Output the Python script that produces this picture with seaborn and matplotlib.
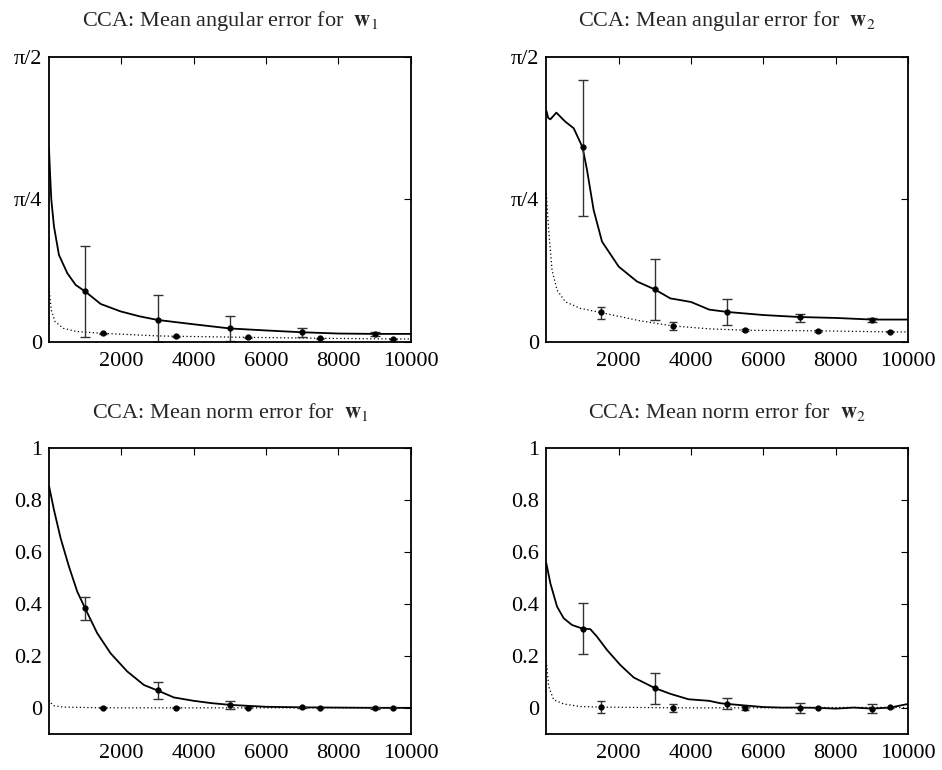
import numpy as np
import pandas as pd
import seaborn as sns
import matplotlib.pyplot as plt

# --- CCA: angular error for w1 (radians) ---
ang1_x = [0, 30, 64, 138, 276, 506, 737, 1000, 1430, 1980, 2500, 3000, 4000, 5000, 6000, 7000, 8000, 9000, 10000]
ang1_y = [1.068, 0.927, 0.785, 0.636, 0.479, 0.379, 0.314, 0.278, 0.209, 0.168, 0.141, 0.121, 0.097, 0.074, 0.063, 0.053, 0.046, 0.044, 0.044]
ang1_dot_x = [0, 64, 166, 396, 764, 1500, 3000, 3500, 5500, 7500, 9500, 10000]
ang1_dot_y = [0.298, 0.176, 0.112, 0.075, 0.057, 0.047, 0.033, 0.031, 0.025, 0.020, 0.016, 0.016]
ang1_err_mid = [0.278, 0.121, 0.074, 0.053, 0.044]
ang1_err_hi = [0.526, 0.259, 0.141, 0.077, 0.053]
ang1_err_lo = [0.025, 0.0, 0.003, 0.028, 0.035]
ang1_dot_mid = [0.047, 0.031, 0.025, 0.020, 0.016]
ang1_dot_hi = [0.050, 0.034, 0.027, 0.022, 0.018]
ang1_dot_lo = [0.044, 0.028, 0.023, 0.018, 0.014]

# --- CCA: angular error for w2 (radians) ---
ang2_x = [0, 50, 110, 276, 525, 755, 1000, 1123, 1307, 1538, 2000, 2505, 3000, 3425, 4000, 4500, 5000, 6000, 7000, 8000, 9000, 10000]
ang2_y = [1.275, 1.235, 1.227, 1.264, 1.214, 1.178, 1.073, 0.949, 0.727, 0.553, 0.415, 0.333, 0.289, 0.240, 0.220, 0.178, 0.165, 0.148, 0.137, 0.132, 0.123, 0.123]
ang2_dot_x = [0, 64, 156, 295, 525, 939, 1500, 2597, 3500, 4500, 5500, 7500, 9500, 10000]
ang2_dot_y = [0.817, 0.617, 0.397, 0.286, 0.221, 0.185, 0.162, 0.116, 0.088, 0.072, 0.064, 0.061, 0.055, 0.055]
ang2_err_mid = [1.073, 0.289, 0.165, 0.137, 0.123]
ang2_err_hi = [1.444, 0.456, 0.237, 0.156, 0.132]
ang2_err_lo = [0.696, 0.121, 0.091, 0.108, 0.110]
ang2_dot_mid = [0.162, 0.088, 0.064, 0.061, 0.055]
ang2_dot_hi = [0.195, 0.108, 0.070, 0.065, 0.058]
ang2_dot_lo = [0.126, 0.064, 0.058, 0.057, 0.052]

# --- CCA: norm error for w1 ---
nrm1_x = [0, 138, 322, 552, 783, 1000, 1335, 1703, 2164, 2624, 3000, 3453, 4000, 4500, 5000, 6000, 7000, 8000, 9000, 10000]
nrm1_y = [0.855, 0.762, 0.653, 0.544, 0.447, 0.383, 0.287, 0.210, 0.140, 0.088, 0.067, 0.040, 0.027, 0.018, 0.0115, 0.004, 0.002, 0.001, 0.0, 0.0]
nrm1_dot_x = [0, 60, 138, 396, 1500, 10000]
nrm1_dot_y = [0.031, 0.018, 0.008, 0.003, 0.0, 0.0]
nrm1_err_mid = [0.383, 0.067, 0.0115, 0.002, 0.0]
nrm1_err_hi = [0.428, 0.099, 0.027, 0.005, 0.003]
nrm1_err_lo = [0.338, 0.033, -0.004, -0.001, -0.003]
nrm1_dot_mid = [0.0, 0.0, 0.0, 0.0, 0.0]
nrm1_dot_hi = [0.002, 0.002, 0.002, 0.002, 0.002]
nrm1_dot_lo = [-0.002, -0.002, -0.002, -0.002, -0.002]

# --- CCA: norm error for w2 ---
nrm2_x = [0, 110, 295, 479, 709, 1000, 1215, 1400, 1676, 2044, 2413, 3000, 3425, 3931, 4500, 4800, 5000,
          5500, 6000, 6500, 7000, 7500, 8000, 8500, 9000, 9500, 10000]
nrm2_y = [0.556, 0.480, 0.390, 0.345, 0.319, 0.305, 0.303, 0.274, 0.223, 0.165, 0.117, 0.076, 0.054, 0.033, 0.027, 0.018, 0.015,
          0.009, 0.003, 0.001, 0.001, 0.0, -0.003, 0.001, -0.003, 0.001, 0.015]
nrm2_dot_x = [0, 64, 202, 479, 939, 1500, 3500, 5500, 7500, 9500, 10000]
nrm2_dot_y = [0.18, 0.082, 0.031, 0.015, 0.005, 0.003, 0.0, 0.0, 0.001, 0.002, 0.0]
nrm2_err_mid = [0.305, 0.076, 0.015, 0.001, -0.003]
nrm2_err_hi = [0.405, 0.136, 0.037, 0.018, 0.014]
nrm2_err_lo = [0.206, 0.015, -0.005, -0.018, -0.018]
nrm2_dot_mid = [0.003, 0.0, 0.0, 0.001, 0.002]
nrm2_dot_hi = [0.028, 0.015, 0.008, 0.003, 0.004]
nrm2_dot_lo = [-0.020, -0.017, -0.008, -0.001, 0.0]

err_x = [1000, 3000, 5000, 7000, 9000]
dot_err_x = [1500, 3500, 5500, 7500, 9500]

titles = ['CCA: Mean angular error for  $\\mathbf{w}_1$',
          'CCA: Mean angular error for  $\\mathbf{w}_2$',
          'CCA: Mean norm error for  $\\mathbf{w}_1$',
          'CCA: Mean norm error for  $\\mathbf{w}_2$']

x_ticks = [2000, 4000, 6000, 8000, 10000]
ang_ticks = [0, np.pi / 4, np.pi / 2]
ang_labels = ['0', 'π/4', 'π/2']
nrm_ticks = [0, 0.2, 0.4, 0.6, 0.8, 1]
nrm_labels = ['0', '0.2', '0.4', '0.6', '0.8', '1']

sns.set_style('white')
plt.rcParams['font.family'] = ['Liberation Serif', 'DejaVu Serif']
plt.rcParams['mathtext.fontset'] = 'stix'

fig = plt.figure(figsize=(9.42, 7.70), dpi=100)

panels = [
    (ang1_x, ang1_y, ang1_dot_x, ang1_dot_y, ang1_err_mid, ang1_err_hi, ang1_err_lo, ang1_dot_mid, ang1_dot_hi, ang1_dot_lo),
    (ang2_x, ang2_y, ang2_dot_x, ang2_dot_y, ang2_err_mid, ang2_err_hi, ang2_err_lo, ang2_dot_mid, ang2_dot_hi, ang2_dot_lo),
    (nrm1_x, nrm1_y, nrm1_dot_x, nrm1_dot_y, nrm1_err_mid, nrm1_err_hi, nrm1_err_lo, nrm1_dot_mid, nrm1_dot_hi, nrm1_dot_lo),
    (nrm2_x, nrm2_y, nrm2_dot_x, nrm2_dot_y, nrm2_err_mid, nrm2_err_hi, nrm2_err_lo, nrm2_dot_mid, nrm2_dot_hi, nrm2_dot_lo),
]

# axes rectangles in figure fractions
rects = [[0.052, 0.556, 0.384, 0.370],
         [0.580, 0.556, 0.384, 0.370],
         [0.052, 0.047, 0.384, 0.371],
         [0.580, 0.047, 0.384, 0.371]]

for i, (px, py, dx, dy, em, eh, el, dm, dh, dl) in enumerate(panels):
    ax = fig.add_axes(rects[i])
    sns.lineplot(x=px, y=py, ax=ax, color='black', linewidth=1.3)
    sns.lineplot(x=dx, y=dy, ax=ax, color='black', linewidth=0.9, linestyle=(0, (1, 2)))

    em, eh, el = np.array(em), np.array(eh), np.array(el)
    ax.errorbar(err_x, em, yerr=[em - el, eh - em], fmt='o', color='black', ecolor='#333333',
                markersize=3.5, elinewidth=1.0, capsize=3.5, capthick=1.0)
    dm, dh, dl = np.array(dm), np.array(dh), np.array(dl)
    ax.errorbar(dot_err_x, dm, yerr=[dm - dl, dh - dm], fmt='o', color='black', ecolor='#333333',
                markersize=3.5, elinewidth=1.0, capsize=3.0, capthick=1.0)

    ax.set_xlim(0, 10000)
    ax.set_xticks(x_ticks)
    ax.set_xticklabels([str(t) for t in x_ticks])
    if i < 2:
        ax.set_ylim(0, np.pi / 2)
        ax.set_yticks(ang_ticks)
        ax.set_yticklabels(ang_labels)
    else:
        ax.set_ylim(-0.1, 1)
        ax.set_yticks(nrm_ticks)
        ax.set_yticklabels(nrm_labels)

    ax.tick_params(direction='in', top=True, right=True, length=5, width=0.8,
                   labelsize=16, colors='black')
    ax.tick_params(axis='x', pad=7)
    ax.tick_params(axis='y', pad=5)
    for s in ax.spines.values():
        s.set_linewidth(1.3)
        s.set_color('black')
    ax.set_title(titles[i], fontsize=16, pad=22)
    ax.set_xlabel('')
    ax.set_ylabel('')

fig.savefig('out.png', dpi=100)
